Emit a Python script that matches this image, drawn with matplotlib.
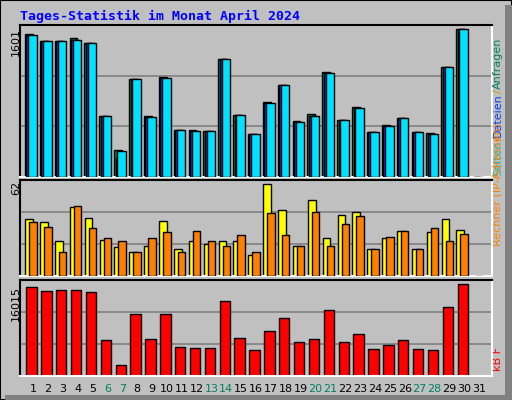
import matplotlib
matplotlib.use("Agg")
import matplotlib.pyplot as plt
from matplotlib.patches import Rectangle
import numpy as np

days = list(range(1, 32))
hits  = [1503,1429,1429,1461,1411,639,281,1029,639,1050,492,492,481,1239,650,450,787,966,587,660,1106,597,734,471,544,618,471,460,1155,1555,0]
files = [1492,1429,1429,1440,1411,639,200,1029,629,1039,492,481,481,1239,650,450,776,966,576,639,1092,597,723,471,534,618,471,450,1155,1555,0]
pages = [1492,1429,1429,1440,1411,639,271,1029,629,1039,492,481,481,1239,650,450,776,966,576,639,1092,597,723,471,534,618,471,450,1155,1555,0]
visits = [36.8,34.9,22.6,44.6,37.5,23.3,18.7,15.5,19.4,35.5,17.4,22.6,20.7,22.6,22.6,13.6,59.4,42.6,19.4,49.1,24.5,39.4,41.3,17.4,24.5,29.1,17.4,28.4,36.8,29.7,0]
sites  = [34.9,31.6,15.5,45.2,31.0,24.5,22.6,15.5,24.5,28.4,15.5,29.1,22.6,19.4,26.5,15.5,40.7,26.5,19.4,41.3,19.4,33.6,38.8,17.4,25.2,29.1,17.4,31.0,22.6,27.1,0]
kbytes = [14834,14160,14328,14328,13991,6069,1854,10283,6237,10283,4889,4720,4720,12474,6406,4383,7586,9608,5731,6237,10957,5731,7080,4551,5226,6069,4551,4383,11463,15340,0]
weekends = [6,7,13,14,20,21,27,28]
max_top, max_mid, max_bot = 1601, 62, 16015

BG = "#c0c0c0"
fig = plt.figure(figsize=(5.12, 4.0), dpi=100, facecolor=BG)
fig.patches.append(Rectangle((0, 0), 1, 1, transform=fig.transFigure, facecolor=BG, edgecolor="black", lw=1.5, zorder=-2))
fig.patches.append(Rectangle((505/512, 0), 7/512, 395/400, transform=fig.transFigure, facecolor="#808080", edgecolor="none", zorder=-1))
fig.patches.append(Rectangle((5/512, 0), 507/512, 5/400, transform=fig.transFigure, facecolor="#808080", edgecolor="none", zorder=-1))

x = np.array(days, dtype=float)
xl = (0.126, 31.87)

def mkax(top, bottom, ymax):
    ax = fig.add_axes([20/512, 1-bottom/400, 472/512, (bottom-top)/400])
    ax.set_facecolor(BG)
    ax.set_xlim(*xl)
    ax.set_ylim(0, ymax)
    ax.set_xticks([]); ax.set_yticks([])
    for g in (ymax/3, 2*ymax/3):
        ax.axhline(g, color="#808080", lw=1.2, zorder=0)
    ax.spines['left'].set_color('black'); ax.spines['top'].set_color('black')
    ax.spines['right'].set_color('white'); ax.spines['bottom'].set_color('white')
    for s in ax.spines.values():
        s.set_linewidth(1.5)
    return ax

a1 = mkax(25, 177, max_top)
a1.bar(x-0.54, hits, width=0.52, align='edge', color="#008040", edgecolor="black", lw=1, zorder=2)
a1.bar(x-0.44, files, width=0.52, align='edge', color="#0040ff", edgecolor="black", lw=1, zorder=3)
a1.bar(x-0.32, pages, width=0.57, align='edge', color="#00e0ff", edgecolor="black", lw=1, zorder=4)

a2 = mkax(180, 276, max_mid)
a2.bar(x-0.52, visits, width=0.52, align='edge', color="#ffff00", edgecolor="black", lw=1, zorder=2)
a2.bar(x-0.25, sites, width=0.5, align='edge', color="#ff8000", edgecolor="black", lw=1, zorder=3)

a3 = mkax(280, 376, max_bot)
a3.bar(x-0.45, kbytes, width=0.7, align='edge', color="#ff0000", edgecolor="black", lw=1, zorder=2)

mono = "DejaVu Sans Mono"
fig.text(20/512, 1-16/400, "Tages-Statistik im Monat April 2024", color="#0000ff", fontsize=9.5,
         fontweight="bold", family=mono, va="center", ha="left")
for lab, ytop in (("1601", 28), ("62", 181), ("16015", 286)):
    fig.text(16/512, 1-ytop/400, lab, rotation=90, fontsize=8, family="DejaVu Sans", va="top", ha="center")

for d in days:
    c = "#008060" if d in weekends else "black"
    xf = (33 + (d-1)*14.87)/512
    fig.text(xf, 1-389/400, str(d), color=c, fontsize=8, family="DejaVu Sans", ha="center", va="center")

def chain(xpix, ybottom, parts):
    prev = None
    for s, c in parts:
        if prev is None:
            prev = a1.annotate(s, xy=(xpix/512, 1-ybottom/400), xycoords=fig.transFigure, color=c,
                               rotation=90, fontsize=8, family="DejaVu Sans", ha="center", va="bottom",
                               annotation_clip=False)
        else:
            prev = a1.annotate(s, xy=(0.5, 1.0), xycoords=prev, color=c, rotation=90, fontsize=8,
                               family="DejaVu Sans", ha="center", va="bottom", annotation_clip=False)

chain(498, 176, [("Seiten", "#00c0e0"), ("/", "#c08000"), ("Dateien", "#0040ff"), ("/", "#c0a000"), ("Anfragen", "#008060")])
chain(498, 246, [("Rechner (IP-Adressen)", "#ff8000")])
chain(498, 371, [("kB F", "#ff0000")])

fig.savefig("out.png", dpi=100, facecolor=BG)
